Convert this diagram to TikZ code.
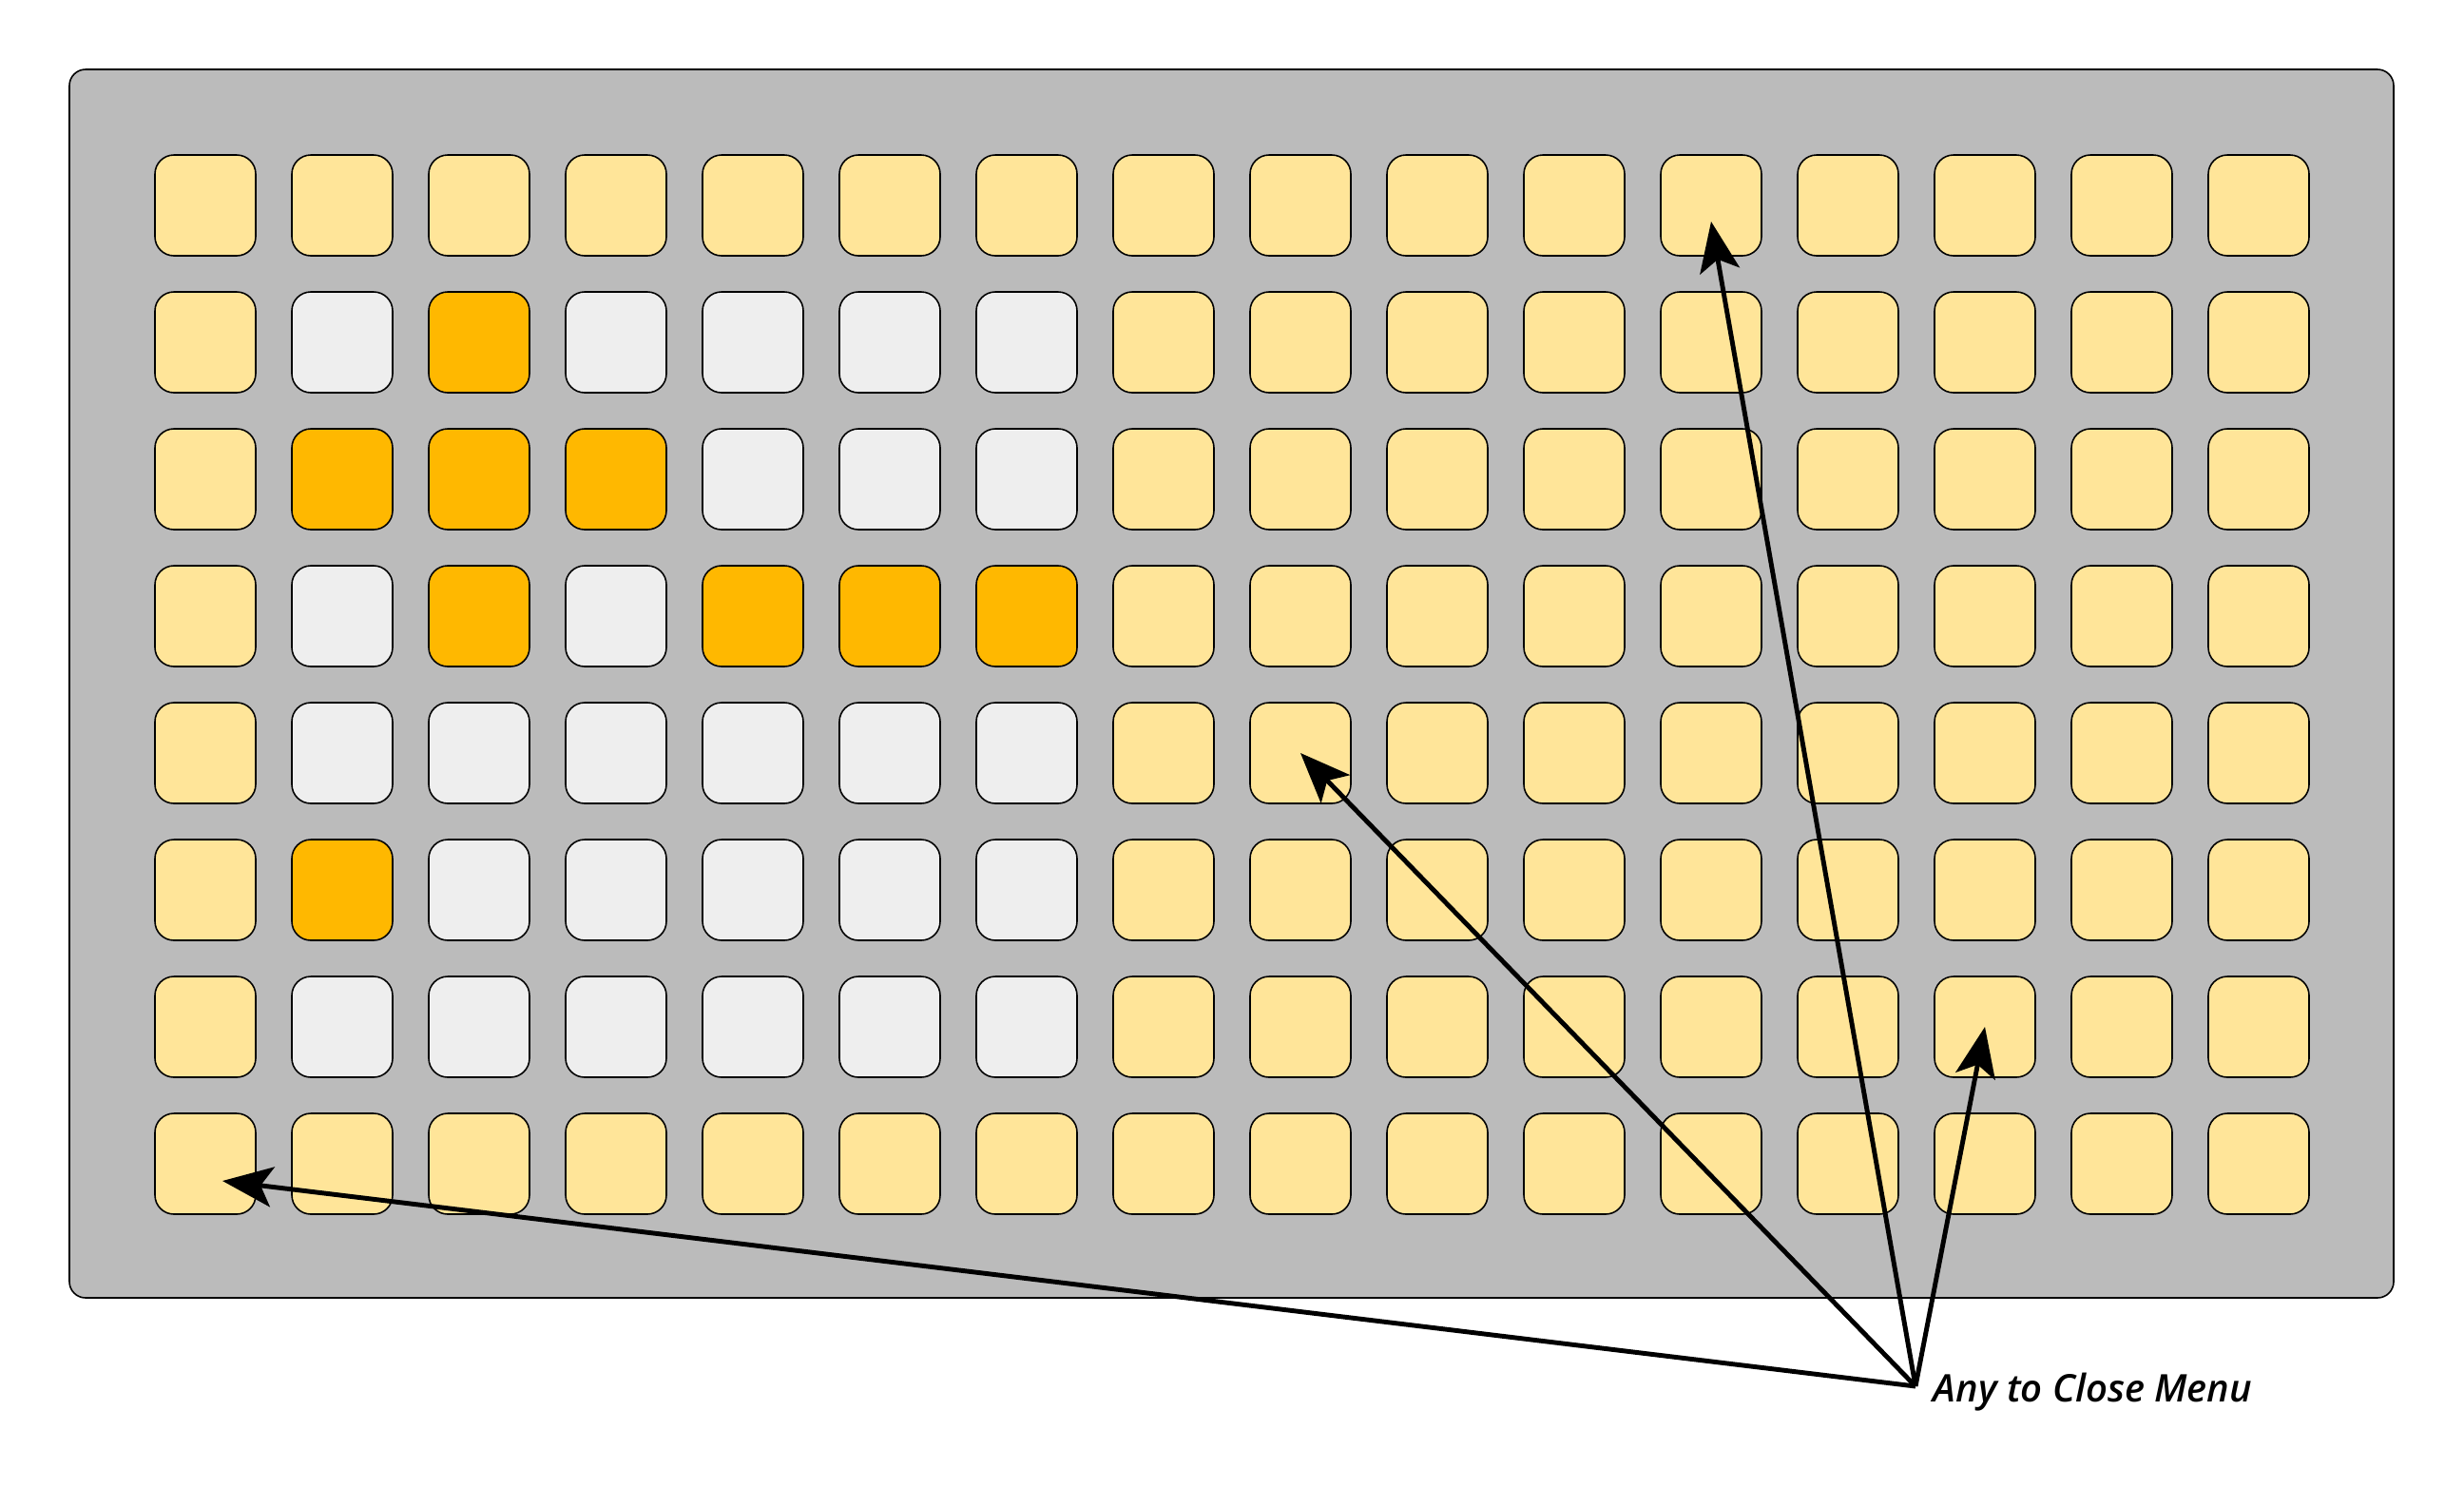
\documentclass[tikz,border=0pt]{standalone}
\usepackage{fontspec}
\setmainfont{Open Sans}
\newfontfamily\lblfont{OpenSans-SemiBoldItalic.ttf}
\usetikzlibrary{arrows.meta}
\definecolor{boardgray}{HTML}{BBBBBB}
\definecolor{padyellow}{HTML}{FFE599}
\definecolor{padgray}{HTML}{EEEEEE}
\definecolor{padorange}{HTML}{FFB800}
\tikzset{
  pad/.style={draw,line width=0.45pt,rounded corners=0.2cm,minimum size=1.06cm,inner sep=0pt},
  padoff/.style={fill=padyellow},
  padgrid/.style={fill=padgray},
  padlit/.style={fill=padorange},
  pointer/.style={line width=1.4pt,-{Stealth[length=15pt,width=12pt,inset=3.5pt]}}
}
\begin{document}
\begin{tikzpicture}
  \useasboundingbox (0,0) rectangle (25.92,-15.84);
  \draw[line width=0.45pt,rounded corners=0.17cm,fill=boardgray] (0.73,-0.73) rectangle (25.18,-13.65);
  % lit pads of the menu
  \foreach \c/\r in {2/1,1/2,2/2,3/2,2/3,4/3,5/3,6/3,1/5}
    {\expandafter\gdef\csname lit\c-\r\endcsname{}}
  \foreach \r in {0,...,7}
    \foreach \c in {0,...,15} {
      \def\kind{padoff}
      \ifnum\r>0 \ifnum\r<7 \ifnum\c>0 \ifnum\c<7 \def\kind{padgrid}\fi\fi\fi\fi
      \ifcsname lit\c-\r\endcsname \def\kind{padlit}\fi
      \node[pad,\kind] (c-\c-\r) at ({2.16+1.44*\c},{-2.16-1.44*\r}) {};
    }
  \coordinate (hub) at (20.15,-14.58);
  \node[anchor=base west,inner sep=0pt,font=\fontsize{11.4}{14}\lblfont] (lbl) at (20.33,-14.74) {Any to Close Menu};
  \draw[pointer] (hub) -- ([xshift=0.18cm,yshift=-0.18cm]c-0-7.center);
  \draw[pointer] (hub) -- (c-8-4.center);
  \draw[pointer] (hub) -- ([yshift=-0.17cm]c-11-0.center);
  \draw[pointer] (hub) -- (c-13-6.center);
\end{tikzpicture}
\end{document}
